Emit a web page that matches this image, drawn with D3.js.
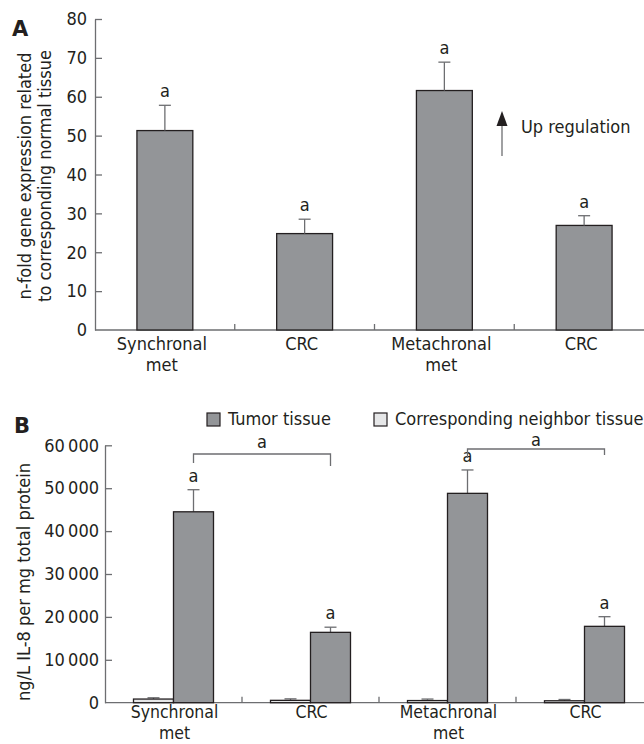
<!DOCTYPE html>
<html>
<head>
<meta charset="utf-8">
<script src="https://cdn.jsdelivr.net/npm/d3@7"></script>
<style>
    body { margin: 0; background: #fff; }
    svg text { font-family: "DejaVu Sans Condensed", "DejaVu Sans", sans-serif; font-stretch: condensed; fill: #231f20; }
</style>
</head>
<body>
<div id="container"></div>
<script>

// Panel A data.
const categoriesA = [['Synchronal', 'met'], ['CRC'], ['Metachronal', 'met'], ['CRC']];
const foldValues = [51.3, 24.8, 61.6, 26.9];
const foldErrors = [6.5, 3.7, 7.3, 2.5];
const ticksA = [0, 10, 20, 30, 40, 50, 60, 70, 80];

// Panel B data.
const categoriesB = [['Synchronal', 'met'], ['CRC'], ['Metachronal', 'met'], ['CRC']];
const seriesB = ['Corresponding neighbor tissue', 'Tumor tissue'];
const neighborValues = [850, 550, 500, 450];
const neighborErrors = [300, 350, 350, 300];
const tumorValues = [44500, 16400, 48800, 17800];
const tumorErrors = [5150, 1200, 5450, 2250];
const ticksB = [0, 10000, 20000, 30000, 40000, 50000, 60000];

const barFill = '#939598';
const lightFill = '#e6e7e8';
const ink = '#231f20';
const axisColor = '#6d6e71';
const fontSize = 18;

const svg = d3.select('#container')
    .append('svg')
    .attr('width', 644)
    .attr('height', 744);

const keys = categoriesA.map((d, i) => i);

// ---------- Panel A ----------

const xA = d3.scaleBand().domain(keys).range([95, 654]);
const yA = d3.scaleLinear().domain([0, 80]).range([330, 19]);

const gA = svg.append('g');

gA.append('text')
    .attr('x', 12).attr('y', 36)
    .style('font-family', '"DejaVu Sans", sans-serif')
    .style('font-stretch', 'normal')
    .attr('font-weight', 'bold')
    .attr('font-size', 21)
    .text('A');

const yAxisA = gA.append('g')
    .attr('transform', 'translate(95,0)')
    .call(d3.axisLeft(yA).tickValues(ticksA).tickSize(-7).tickSizeOuter(0).tickPadding(8));
yAxisA.select('.domain').attr('stroke', axisColor).attr('stroke-width', 1.3);
yAxisA.selectAll('.tick line').attr('stroke', axisColor).attr('stroke-width', 1.3);
yAxisA.selectAll('.tick text').attr('font-size', fontSize).attr('font-family', null);
yAxisA.selectAll('.tick').filter(d => d === 0).select('line').remove();

// x axis line and separators
gA.append('line')
    .attr('x1', 95).attr('x2', 644)
    .attr('y1', yA(0)).attr('y2', yA(0))
    .attr('stroke', axisColor).attr('stroke-width', 1.3);
gA.selectAll('.sep')
    .data(keys.slice(1))
    .enter().append('line')
    .attr('x1', d => xA(d)).attr('x2', d => xA(d))
    .attr('y1', yA(0)).attr('y2', yA(0) - 6)
    .attr('stroke', axisColor).attr('stroke-width', 1.3);

const bwA = xA.bandwidth() * 0.4;

gA.selectAll('.bar')
    .data(foldValues)
    .enter().append('rect')
    .attr('x', (d, i) => xA(i) + (xA.bandwidth() - bwA) / 2)
    .attr('y', d => yA(d))
    .attr('width', bwA)
    .attr('height', d => yA(0) - yA(d))
    .attr('fill', barFill)
    .attr('stroke', ink)
    .attr('stroke-width', 1.3);

const cxA = i => xA(i) + xA.bandwidth() / 2;

gA.selectAll('.err')
    .data(foldValues)
    .enter().append('line')
    .attr('x1', (d, i) => cxA(i)).attr('x2', (d, i) => cxA(i))
    .attr('y1', d => yA(d))
    .attr('y2', (d, i) => yA(d + foldErrors[i]))
    .attr('stroke', axisColor).attr('stroke-width', 1.3);
gA.selectAll('.cap')
    .data(foldValues)
    .enter().append('line')
    .attr('x1', (d, i) => cxA(i) - 6).attr('x2', (d, i) => cxA(i) + 6)
    .attr('y1', (d, i) => yA(d + foldErrors[i]))
    .attr('y2', (d, i) => yA(d + foldErrors[i]))
    .attr('stroke', axisColor).attr('stroke-width', 1.3);
gA.selectAll('.sig')
    .data(foldValues)
    .enter().append('text')
    .attr('x', (d, i) => cxA(i))
    .attr('y', (d, i) => yA(d + foldErrors[i]) - 8)
    .attr('text-anchor', 'middle')
    .attr('font-size', fontSize)
    .text('a');

gA.selectAll('.xlab')
    .data(categoriesA)
    .enter().append('text')
    .attr('text-anchor', 'middle')
    .attr('font-size', fontSize)
    .attr('y', yA(0) + 20)
    .each(function (d, i) {
        d3.select(this).selectAll('tspan')
            .data(d)
            .enter().append('tspan')
            .attr('x', cxA(i) - 3)
            .attr('dy', (t, j) => j === 0 ? 0 : 21)
            .text(t => t);
    });

// y label
const ylabA = gA.append('text')
    .attr('transform', 'translate(31,176) rotate(-90)')
    .attr('text-anchor', 'middle')
    .attr('font-size', fontSize);
ylabA.append('tspan').attr('x', 0).attr('dy', 0).text('n-fold gene expression related');
ylabA.append('tspan').attr('x', 0).attr('dy', 20).text('to corresponding normal tissue');

// Up regulation arrow
gA.append('line')
    .attr('x1', 502).attr('x2', 502)
    .attr('y1', 156).attr('y2', 122)
    .attr('stroke', axisColor).attr('stroke-width', 1.3);
gA.append('path')
    .attr('d', 'M502,111 L496.5,126 L507.5,126 Z')
    .attr('fill', ink);
gA.append('text')
    .attr('x', 521).attr('y', 133)
    .attr('font-size', fontSize)
    .text('Up regulation');

// ---------- Panel B ----------

const xB = d3.scaleBand().domain(keys).range([105, 653]);
const xSub = d3.scaleBand().domain(seriesB)
    .range([(xB.bandwidth() - 80) / 2, (xB.bandwidth() + 80) / 2]);
const yB = d3.scaleLinear().domain([0, 60000]).range([702.7, 445.3]);

const gB = svg.append('g');

gB.append('text')
    .attr('x', 14).attr('y', 433)
    .style('font-family', '"DejaVu Sans", sans-serif')
    .style('font-stretch', 'normal')
    .attr('font-weight', 'bold')
    .attr('font-size', 21)
    .text('B');

const fmtB = d3.formatLocale({ thousands: '\u2009', grouping: [3], decimal: '.', currency: ['', ''] }).format(',d');

const yAxisB = gB.append('g')
    .attr('transform', 'translate(105,0)')
    .call(d3.axisLeft(yB).tickValues(ticksB).tickFormat(fmtB).tickSize(-7).tickSizeOuter(0).tickPadding(6));
yAxisB.select('.domain').attr('stroke', axisColor).attr('stroke-width', 1.3);
yAxisB.selectAll('.tick line').attr('stroke', axisColor).attr('stroke-width', 1.3);
yAxisB.selectAll('.tick text').attr('font-size', fontSize).attr('font-family', null);
yAxisB.selectAll('.tick').filter(d => d === 0).select('line').remove();

gB.append('line')
    .attr('x1', 105).attr('x2', 644)
    .attr('y1', yB(0)).attr('y2', yB(0))
    .attr('stroke', axisColor).attr('stroke-width', 1.3);
gB.selectAll('.sep')
    .data(keys.slice(1))
    .enter().append('line')
    .attr('x1', d => xB(d)).attr('x2', d => xB(d))
    .attr('y1', yB(0)).attr('y2', yB(0) - 6)
    .attr('stroke', axisColor).attr('stroke-width', 1.3);

const rowsB = keys.map(i => [
    { s: seriesB[0], v: neighborValues[i], e: neighborErrors[i], fill: lightFill, i: i },
    { s: seriesB[1], v: tumorValues[i], e: tumorErrors[i], fill: barFill, i: i }
]);

const groups = gB.selectAll('.grp')
    .data(rowsB)
    .enter().append('g')
    .attr('transform', (d, i) => `translate(${xB(i)},0)`);

groups.selectAll('line.err')
    .data(d => d)
    .enter().append('line')
    .attr('x1', d => xSub(d.s) + xSub.bandwidth() / 2)
    .attr('x2', d => xSub(d.s) + xSub.bandwidth() / 2)
    .attr('y1', d => yB(d.v))
    .attr('y2', d => yB(d.v + d.e))
    .attr('stroke', axisColor).attr('stroke-width', 1.3);
groups.selectAll('line.cap')
    .data(d => d)
    .enter().append('line')
    .attr('x1', d => xSub(d.s) + xSub.bandwidth() / 2 - 6)
    .attr('x2', d => xSub(d.s) + xSub.bandwidth() / 2 + 6)
    .attr('y1', d => yB(d.v + d.e))
    .attr('y2', d => yB(d.v + d.e))
    .attr('stroke', axisColor).attr('stroke-width', 1.3);

groups.selectAll('rect')
    .data(d => d)
    .enter().append('rect')
    .attr('x', d => xSub(d.s))
    .attr('y', d => yB(d.v))
    .attr('width', xSub.bandwidth())
    .attr('height', d => yB(0) - yB(d.v))
    .attr('fill', d => d.fill)
    .attr('stroke', ink)
    .attr('stroke-width', 1.3);

groups.selectAll('text.sig')
    .data(d => d.filter(r => r.s === seriesB[1]))
    .enter().append('text')
    .attr('x', d => xSub(d.s) + xSub.bandwidth() / 2)
    .attr('y', d => yB(d.v + d.e) - 8)
    .attr('text-anchor', 'middle')
    .attr('font-size', fontSize)
    .text('a');

const tumorX = i => xB(i) + xSub(seriesB[1]) + xSub.bandwidth() / 2;

gB.selectAll('.xlab')
    .data(categoriesB)
    .enter().append('text')
    .attr('text-anchor', 'middle')
    .attr('font-size', 17.5)
    .attr('y', yB(0) + 15.5)
    .each(function (d, i) {
        d3.select(this).selectAll('tspan')
            .data(d)
            .enter().append('tspan')
            .attr('x', xB(i) + xB.bandwidth() / 2 + 1)
            .attr('dy', (t, j) => j === 0 ? 0 : 20.5)
            .text(t => t);
    });

// brackets between tumor bars
const brackets = [
    { from: 0, to: 1, top: 454, left: 463, right: 466, gap: 6 },
    { from: 2, to: 3, top: 449, left: 458, right: 455, gap: 3 }
];
brackets.forEach(b => {
    const x1 = tumorX(b.from), x2 = tumorX(b.to);
    gB.append('path')
        .attr('d', `M${x1},${b.left} V${b.top} H${x2} V${b.right}`)
        .attr('fill', 'none')
        .attr('stroke', axisColor).attr('stroke-width', 1.3);
    gB.append('text')
        .attr('x', (x1 + x2) / 2)
        .attr('y', b.top - b.gap)
        .attr('text-anchor', 'middle')
        .attr('font-size', fontSize)
        .text('a');
});

// legend
const legend = [
    { label: seriesB[1], fill: barFill, x: 207 },
    { label: seriesB[0], fill: lightFill, x: 374 }
];
legend.forEach(l => {
    gB.append('rect')
        .attr('x', l.x).attr('y', 413)
        .attr('width', 13).attr('height', 13)
        .attr('fill', l.fill)
        .attr('stroke', ink).attr('stroke-width', 1.2);
    gB.append('text')
        .attr('x', l.x + 21).attr('y', 425)
        .attr('font-size', fontSize)
        .text(l.label);
});

gB.append('text')
    .attr('transform', 'translate(30,582) rotate(-90)')
    .attr('text-anchor', 'middle')
    .attr('font-size', fontSize)
    .text('ng/L IL-8 per mg total protein');

</script>
</body>
</html>
